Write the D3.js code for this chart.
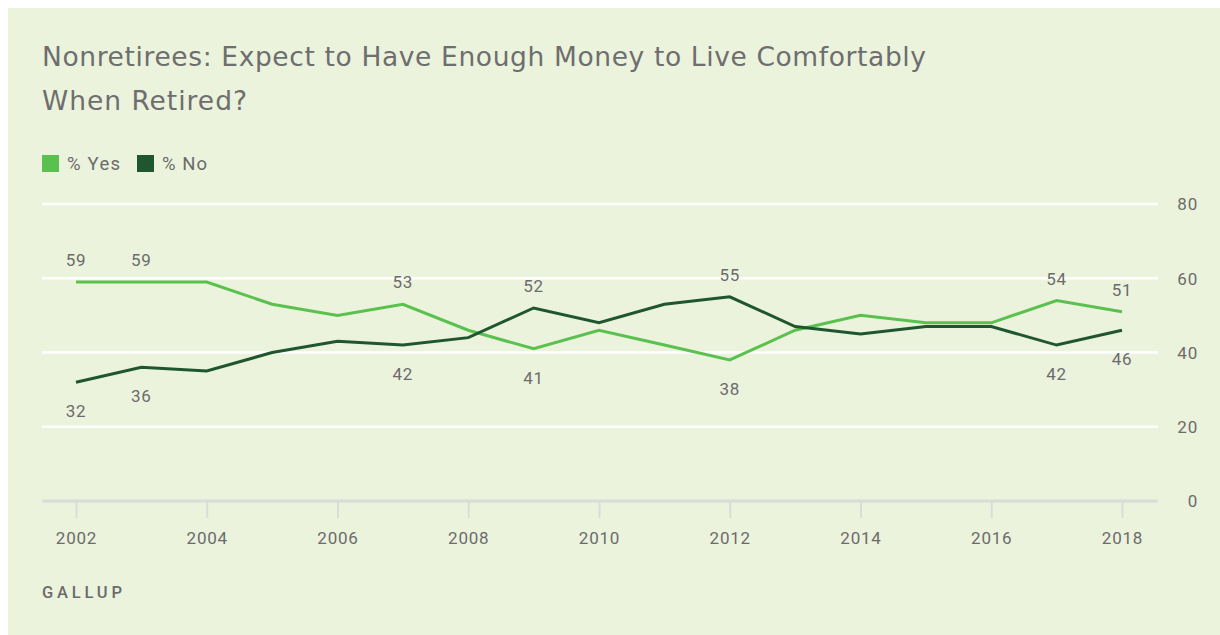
<!DOCTYPE html>
<html>
<head>
<meta charset="utf-8">
<script src="https://cdn.jsdelivr.net/npm/d3@7"></script>
<style>
  html, body { margin: 0; padding: 0; background: #ffffff; }
  svg { display: block; }
</style>
</head>
<body>
<svg id="chart" width="1220" height="635"></svg>
<script>
// Survey years and share of nonretirees answering yes / no (%)
const years = [2002, 2003, 2004, 2005, 2006, 2007, 2008, 2009, 2010, 2011, 2012, 2013, 2014, 2015, 2016, 2017, 2018];
const yesValues = [59, 59, 59, 53, 50, 53, 46, 41, 46, 42, 38, 46, 50, 48, 48, 54, 51];
const noValues  = [32, 36, 35, 40, 43, 42, 44, 52, 48, 53, 55, 47, 45, 47, 47, 42, 46];
// Years whose values are printed next to the lines
const labeledYears = [2002, 2003, 2007, 2009, 2012, 2017, 2018];
const xTickYears = [2002, 2004, 2006, 2008, 2010, 2012, 2014, 2016, 2018];
const yTicks = [0, 20, 40, 60, 80];
const seriesNames = ["% Yes", "% No"];

const colors = { yes: "#5ac14f", no: "#1f5631" };
const textColor = "#6b6b6b";
const numFont = 17;
const baseFont = "Roboto, 'Open Sans', sans-serif";

const svg = d3.select("#chart").style("font-family", baseFont);

// spread a text's letters so that it spans the given width
function spreadTo(sel, width) {
  const node = sel.node();
  const n = node.getNumberOfChars();
  const w = node.getComputedTextLength();
  if (n > 1) sel.style("letter-spacing", ((width - w) / (n - 1)) + "px");
  return sel;
}

// panel background
svg.append("rect").attr("x", 8).attr("y", 8).attr("width", 1212).attr("height", 627).attr("fill", "#ebf3dd");

// title
const titleLines = ["Nonretirees: Expect to Have Enough Money to Live Comfortably", "When Retired?"];
const titleWidths = [884, 205];
titleLines.forEach((t, i) => {
  const el = svg.append("text").attr("x", 42).attr("y", 66 + i * 44)
    .attr("fill", "#6e6e6e")
    .style("font-size", "26.5px")
    .style("font-family", "'DejaVu Sans', sans-serif")
    .text(t);
  spreadTo(el, titleWidths[i]);
});

// legend
const legendItems = [
  { name: seriesNames[0], color: colors.yes, x: 42, w: 53 },
  { name: seriesNames[1], color: colors.no, x: 137, w: 45 }
];
legendItems.forEach(d => {
  svg.append("rect").attr("x", d.x).attr("y", 155).attr("width", 17).attr("height", 17).attr("fill", d.color);
  const el = svg.append("text").attr("x", d.x + 25).attr("y", 170)
    .style("font-size", "18.5px")
    .attr("fill", textColor).text(d.name);
  spreadTo(el, d.w);
});

// scales
const x = d3.scaleLinear().domain([2002, 2018]).range([76, 1122]);
const y = d3.scaleLinear().domain([0, 80]).range([501, 204]);

// horizontal gridlines
svg.append("g").selectAll("line").data(yTicks.filter(t => t > 0)).join("line")
  .attr("x1", 42).attr("x2", 1158)
  .attr("y1", d => y(d)).attr("y2", d => y(d))
  .attr("stroke", "#ffffff").attr("stroke-width", 2.5);

// right-side value axis
const yAxis = d3.axisRight(y).tickValues(yTicks).tickSize(0).tickPadding(0).tickFormat(d3.format("d"));
const yAxisG = svg.append("g").attr("transform", "translate(1198,0)").call(yAxis);
yAxisG.select(".domain").remove();
yAxisG.attr("font-family", null).attr("font-size", null);
yAxisG.selectAll("text").attr("text-anchor", "end")
  .style("font-size", numFont + "px").style("letter-spacing", "0.8px")
  .attr("fill", textColor).attr("dy", "0.35em");

// bottom year axis
const xAxis = d3.axisBottom(x).tickValues(xTickYears).tickSize(17).tickPadding(14).tickFormat(d3.format("d"));
const xAxisG = svg.append("g").attr("transform", `translate(0,${y(0)})`).call(xAxis);
xAxisG.select(".domain").remove();
xAxisG.attr("font-family", null).attr("font-size", null);
xAxisG.selectAll(".tick line").attr("stroke", "#dadcd6").attr("stroke-width", 2);
xAxisG.selectAll("text").attr("fill", textColor)
  .style("font-size", numFont + "px").style("letter-spacing", "0.8px");
svg.append("line").attr("x1", 42).attr("x2", 1158).attr("y1", y(0)).attr("y2", y(0))
  .attr("stroke", "#dadcd6").attr("stroke-width", 3);

// series lines
const line = d3.line().x(d => x(d.year)).y(d => y(d.value));
const series = [
  { key: "yes", values: years.map((yr, i) => ({ year: yr, value: yesValues[i] })) },
  { key: "no", values: years.map((yr, i) => ({ year: yr, value: noValues[i] })) }
];
svg.append("g").selectAll("path").data(series).join("path")
  .attr("d", d => line(d.values))
  .attr("fill", "none")
  .attr("stroke", d => colors[d.key])
  .attr("stroke-width", 3)
  .attr("stroke-linejoin", "miter");

// value labels: higher value above its line, lower value below
const labels = [];
labeledYears.forEach(yr => {
  const i = years.indexOf(yr);
  const a = yesValues[i], b = noValues[i];
  const hi = Math.max(a, b), lo = Math.min(a, b);
  labels.push({ year: yr, value: hi, dy: -16 });
  labels.push({ year: yr, value: lo, dy: 35 });
});
svg.append("g").selectAll("text").data(labels).join("text")
  .attr("x", d => x(d.year))
  .attr("y", d => y(d.value) + d.dy)
  .attr("text-anchor", "middle")
  .style("font-size", numFont + "px")
  .style("letter-spacing", "0.8px")
  .attr("fill", textColor)
  .text(d => d.value);

// source
const src = svg.append("text").attr("x", 42).attr("y", 598)
  .style("font-size", "16.5px").style("font-weight", 500)
  .attr("fill", textColor).text("GALLUP");
spreadTo(src, 80);
</script>
</body>
</html>
